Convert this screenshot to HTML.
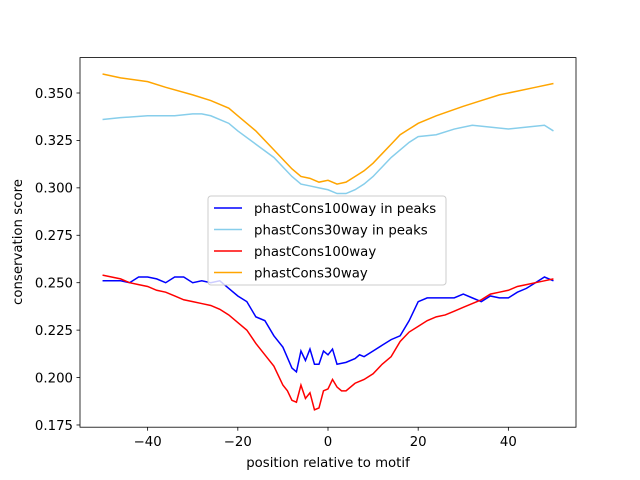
<!DOCTYPE html>
<html><head><meta charset="utf-8"><style>body{margin:0;background:#fff}svg{display:block;font-family:"DejaVu Sans","Liberation Sans",sans-serif}</style></head>
<body>
<svg id="chart" width="640" height="480">
<rect width="640" height="480" fill="#fff"/>
<g id="lines"></g>
<rect x="80" y="57.6" width="496" height="369.6" fill="none" stroke="#000" stroke-width="0.8"/>
<g id="ticks" font-size="13.3" fill="#000"></g>
<text x="328" y="467" text-anchor="middle" font-size="13.3">position relative to motif</text>
<text x="0" y="0" transform="translate(22,242) rotate(-90)" text-anchor="middle" font-size="13.3">conservation score</text>
<g id="legend"></g>
</svg>
<script>
const xOrange=[-50,-46,-40,-36,-30,-26,-22,-20,-16,-12,-10,-8,-6,-4,-2,0,2,4,6,8,10,12,14,16,18,20,24,30,34,38,42,46,50];
const yOrange=[.360,.358,.356,.353,.349,.346,.342,.338,.330,.320,.315,.310,.306,.305,.303,.304,.302,.303,.306,.309,.313,.318,.323,.328,.331,.334,.338,.343,.346,.349,.351,.353,.355];
const xSky=[-50,-46,-40,-34,-30,-28,-26,-22,-20,-16,-12,-10,-8,-6,-4,-2,0,2,4,6,8,10,12,14,16,18,20,24,28,32,36,40,44,48,50];
const ySky=[.336,.337,.338,.338,.339,.339,.338,.334,.330,.323,.316,.311,.306,.302,.301,.300,.299,.297,.297,.299,.302,.306,.311,.316,.320,.324,.327,.328,.331,.333,.332,.331,.332,.333,.330];
const xBlue=[-50,-48,-46,-44,-42,-40,-38,-36,-34,-32,-30,-28,-26,-24,-22,-20,-18,-16,-14,-12,-10,-8,-7,-6,-5,-4,-3,-2,-1,0,1,2,4,6,7,8,10,12,14,16,18,20,22,24,26,28,30,32,34,36,38,40,42,44,46,48,50];
const yBlue=[.251,.251,.251,.250,.253,.253,.252,.250,.253,.253,.250,.251,.250,.251,.247,.243,.240,.232,.230,.222,.216,.205,.203,.214,.209,.215,.207,.207,.214,.212,.215,.207,.208,.210,.212,.211,.214,.217,.220,.222,.230,.240,.242,.242,.242,.242,.244,.242,.240,.243,.242,.242,.245,.247,.250,.253,.251];
const xRed=[-50,-48,-46,-44,-42,-40,-38,-36,-34,-32,-30,-28,-26,-24,-22,-20,-18,-16,-14,-12,-10,-9,-8,-7,-6,-5,-4,-3,-2,-1,0,1,2,3,4,6,8,10,12,14,16,18,20,22,24,26,28,30,32,34,36,38,40,42,44,46,48,50];
const yRed=[.254,.253,.252,.250,.249,.248,.246,.245,.243,.241,.240,.239,.238,.236,.233,.229,.225,.218,.212,.206,.196,.193,.188,.187,.196,.189,.192,.183,.184,.193,.194,.199,.195,.193,.193,.197,.199,.202,.207,.211,.219,.224,.227,.230,.232,.233,.235,.237,.239,.241,.244,.245,.246,.248,.249,.250,.251,.252];
const xTicks=[-40,-20,0,20,40];
const yTicks=[0.175,0.200,0.225,0.250,0.275,0.300,0.325,0.350];
const labels=["phastCons100way in peaks","phastCons30way in peaks","phastCons100way","phastCons30way"];
const NS="http://www.w3.org/2000/svg";
function sx(v){return 80+(v+55)/110*496;}
function sy(v){return 93+(0.350-v)*1897;}
function line(xs,ys,color,name){
  const p=document.createElementNS(NS,'polyline');
  p.setAttribute('points',xs.map((x,i)=>sx(x)+','+sy(ys[i])).join(' '));
  p.setAttribute('fill','none');p.setAttribute('stroke',color);p.setAttribute('stroke-width','1.5');
  
  
  document.getElementById('lines').appendChild(p);
}
line(xBlue,yBlue,'#0000ff','line-phastcons100way-peaks');
line(xSky,ySky,'#87ceeb','line-phastcons30way-peaks');
line(xRed,yRed,'#ff0000','line-phastcons100way');
line(xOrange,yOrange,'#ffa500','line-phastcons30way');
const tg=document.getElementById('ticks');
xTicks.forEach(v=>{
  const x=sx(v);
  const l=document.createElementNS(NS,'line');
  l.setAttribute('x1',x);l.setAttribute('x2',x);l.setAttribute('y1',427.2);l.setAttribute('y2',430.7);l.setAttribute('stroke','#000');l.setAttribute('stroke-width','0.8');
  
  
  tg.appendChild(l);
  const t=document.createElementNS(NS,'text');
  t.setAttribute('x',x);t.setAttribute('y',446);t.setAttribute('text-anchor','middle');
  t.textContent=(v<0?'\u2212'+(-v):v);
  
  
  tg.appendChild(t);
});
yTicks.forEach(v=>{
  const y=sy(v);
  const l=document.createElementNS(NS,'line');
  l.setAttribute('x1',76.5);l.setAttribute('x2',80);l.setAttribute('y1',y);l.setAttribute('y2',y);l.setAttribute('stroke','#000');l.setAttribute('stroke-width','0.8');
  
  
  tg.appendChild(l);
  const t=document.createElementNS(NS,'text');
  t.setAttribute('x',73);t.setAttribute('y',y+4.8);t.setAttribute('text-anchor','end');
  t.textContent=v.toFixed(3);
  
  
  tg.appendChild(t);
});
const lg=document.getElementById('legend');
const box=document.createElementNS(NS,'rect');
box.setAttribute('x',208);box.setAttribute('y',196);box.setAttribute('width',238);box.setAttribute('height',89);box.setAttribute('rx',3);
box.setAttribute('fill','rgba(255,255,255,0.8)');box.setAttribute('stroke','#ccc');box.setAttribute('stroke-width','1');


lg.appendChild(box);
const cols=['#0000ff','#87ceeb','#ff0000','#ffa500'];
labels.forEach((s,i)=>{
  const y=208+i*21.5;
  const l=document.createElementNS(NS,'line');
  l.setAttribute('x1',214);l.setAttribute('x2',242);l.setAttribute('y1',y);l.setAttribute('y2',y);l.setAttribute('stroke',cols[i]);l.setAttribute('stroke-width','1.5');
  
  
  lg.appendChild(l);
  const t=document.createElementNS(NS,'text');
  t.setAttribute('x',254);t.setAttribute('y',y+4.8);t.setAttribute('font-size','13.3');
  t.textContent=s;
  
  
  lg.appendChild(t);
});
</script>
</body></html>
